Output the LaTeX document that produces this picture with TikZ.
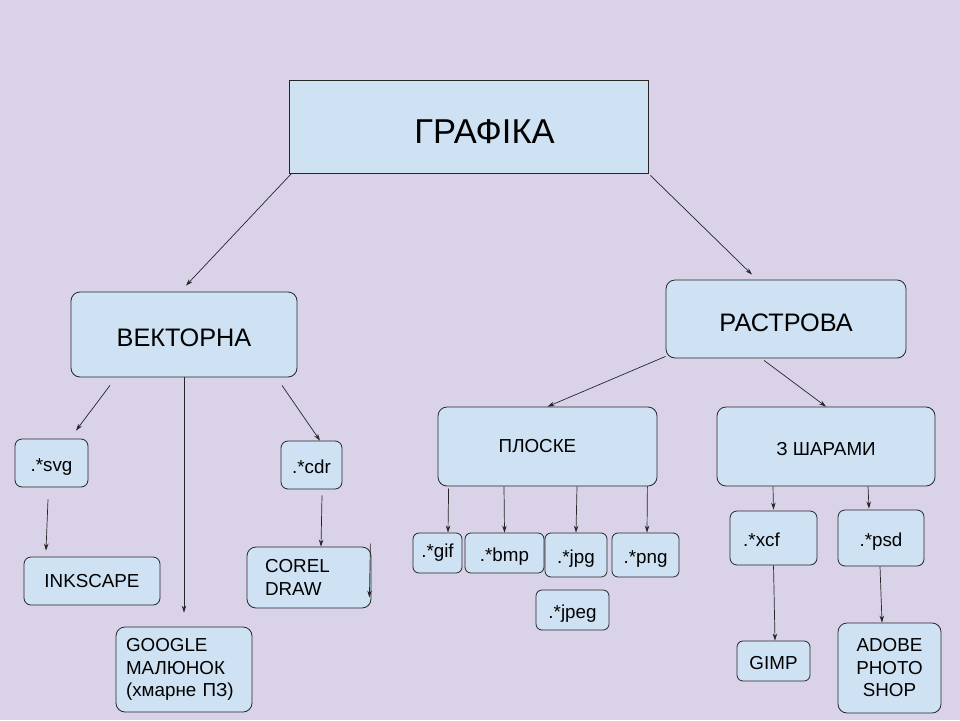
\documentclass[tikz,border=0pt]{standalone}
\usepackage{fontspec}
\setmainfont{Liberation Sans}
\usetikzlibrary{calc,arrows.meta}
\definecolor{bgviolet}{HTML}{D9D2E9}
\definecolor{boxblue}{HTML}{CFE2F3}
\begin{document}
\begin{tikzpicture}[x=1pt, y=-1pt, >={Stealth[length=7pt,width=4.5pt]},
	box/.style={draw=black!85, fill=boxblue, rounded corners=9pt, inner sep=0pt, line width=0.8pt},
	big/.style={font=\fontsize{25.3}{29}\selectfont, text height=24pt, text depth=0pt},
	mid/.style={font=\fontsize{18.8}{22.5}\selectfont},
	low/.style={mid, text height=17.5pt, text depth=0pt},
	arr/.style={->, draw=black!85, line width=0.7pt}]
	\fill[bgviolet] (0,0) rectangle (960,720);
	\useasboundingbox (0,0) rectangle (960,720);
	% top
	\node[box, rounded corners=0pt, minimum width=359pt, minimum height=93pt,
		label={[font=\fontsize{34.5}{38}\selectfont, xshift=16pt, yshift=-5pt]center:ГРАФІКА}] (G) at (468.5,126.5) {};
	% second level
	\node[box, big, minimum width=226pt, minimum height=85pt] (V) at (184,334.5) {ВЕКТОРНА};
	\node[box, big, minimum width=240pt, minimum height=78pt] (R) at (786,319) {РАСТРОВА};
	\node[box, minimum width=219pt, minimum height=79pt,
		label={[mid, xshift=-10pt]center:ПЛОСКЕ}] (P) at (547.5,446.5) {};
	\node[box, low, minimum width=218pt, minimum height=79pt] (S) at (826,446.5) {З ШАРАМИ};
	% vector branch
	\node[box, low, rounded corners=7pt, minimum width=73pt, minimum height=48pt] (svg) at (51.5,463) {.*svg};
	\node[box, low, rounded corners=7pt, minimum width=61pt, minimum height=48pt] (cdr) at (311.5,465) {.*cdr};
	\node[box, mid, rounded corners=7pt, minimum width=136pt, minimum height=48pt] (INK) at (92,581) {INKSCAPE};
	\node[box, mid, minimum width=124pt, minimum height=61pt, text width=88pt, align=left] (C) at (309,577.5) {COREL\\DRAW};
	\node[box, mid, minimum width=136pt, minimum height=85pt, text width=116pt, align=left] (GG) at (184,669.5) {GOOGLE\\МАЛЮНОК\\(хмарне ПЗ)};
	% raster branch
	\node[box, mid, rounded corners=6pt, minimum width=49pt, minimum height=40pt] (gif) at (437.5,553) {.*gif};
	\node[box, low, rounded corners=6pt, minimum width=79pt, minimum height=40pt] (bmp) at (504.5,553) {.*bmp};
	\node[box, low, rounded corners=6pt, minimum width=62pt, minimum height=44pt] (jpg) at (576,555) {.*jpg};
	\node[box, low, rounded corners=6pt, minimum width=67pt, minimum height=44pt] (png) at (645.5,555) {.*png};
	\node[box, low, rounded corners=6pt, minimum width=73pt, minimum height=40pt] (jpeg) at (572.5,610) {.*jpeg};
	\node[box, rounded corners=7pt, minimum width=87pt, minimum height=54pt,
		label={[mid, xshift=-12pt, yshift=-2pt]center:.*xcf}] (xcf) at (773.5,538) {};
	\node[box, low, rounded corners=7pt, minimum width=86pt, minimum height=56pt] (psd) at (881,538) {.*psd};
	\node[box, low, rounded corners=6pt, minimum width=73pt, minimum height=40pt] (GIMP) at (773.5,661) {GIMP};
	\node[box, mid, minimum width=103pt, minimum height=90pt, align=center] (A) at (889.5,668) {ADOBE\\PHOTO\\SHOP};
	% arrows
	\draw[arr] ($(G.south west)+(3,0)$) -- ($(V.north)+(2,-6)$);
	\draw[arr] ($(G.south east)+(2,2)$) -- ($(R.north)+(-34,-5)$);
	\draw[arr] ($(V.south)+(-74,8)$) -- ($(svg.north)+(24.5,-8)$);
	\draw[arr] (V.south) -- ($(GG.north)+(0,-14)$);
	\draw[arr] ($(V.south)+(98,8)$) -- ($(cdr.north)+(8.5,0)$);
	\draw[arr] ($(svg.south)+(-3.5,12)$) -- ($(INK.north)+(-46,-6)$);
	\draw[arr] ($(cdr.south)+(10.5,6)$) -- ($(C.north)+(12,0)$);
	\draw[arr] ($(C.north east)+(-1,-3)$) -- ($(C.north east)+(-2,51)$);
	\draw[arr] ($(R.south west)+(0,-2)$) -- (P.north);
	\draw[arr] ($(R.south)+(-22,2)$) -- (S.north);
	\draw[arr] ($(P.south west)+(11,2)$) -- ($(gif.north)+(10.5,0)$);
	\draw[arr] ($(P.south)+(-43.5,0)$) -- (bmp.north);
	\draw[arr] ($(P.south)+(29.5,0)$) -- (jpg.north);
	\draw[arr] ($(P.south east)+(-10,0)$) -- ($(png.north)+(1.5,0)$);
	\draw[arr] ($(S.south)+(-53,0)$) -- ($(xcf.north)+(0,-1)$);
	\draw[arr] ($(S.south)+(42,0)$) -- ($(psd.north)+(-12,-1)$);
	\draw[arr] (xcf.south) -- ($(GIMP.north)+(1.5,0)$);
	\draw[arr] ($(psd.south)+(-1,0)$) -- ($(A.north)+(-7.5,0)$);
\end{tikzpicture}
\end{document}
